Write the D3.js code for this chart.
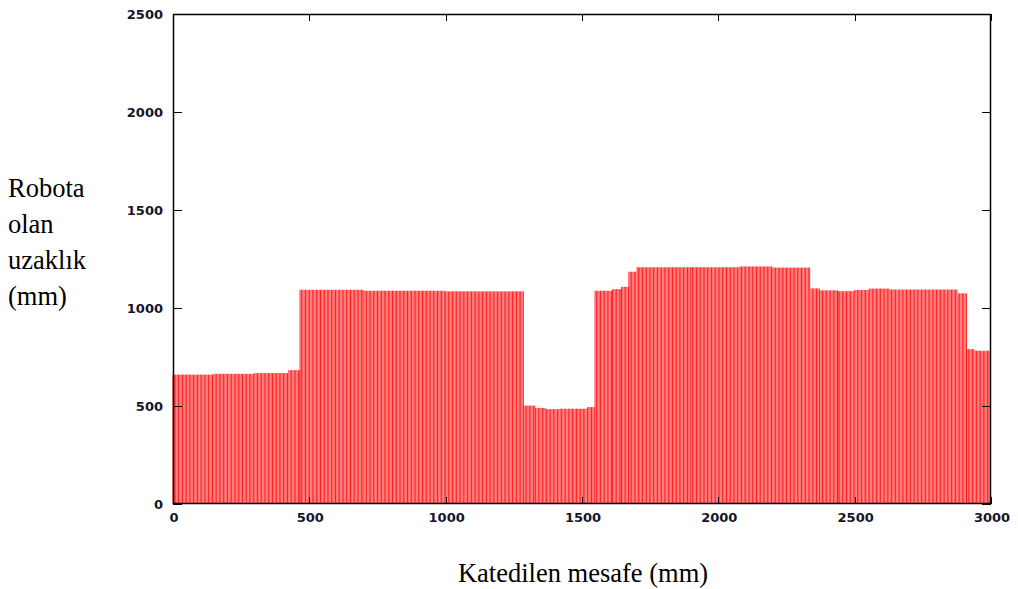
<!DOCTYPE html>
<html>
<head>
<meta charset="utf-8">
<script src="https://cdn.jsdelivr.net/npm/d3@7"></script>
<style>
  html, body { margin: 0; padding: 0; background: #fff; }
  svg { display: block; }
</style>
</head>
<body>
<svg id="chart" width="1018" height="589"></svg>
<script>
// Distance readings along the travelled path, as runs of equal readings:
// [from mm, to mm, distance mm]
const runStart = [0, 150, 300, 425, 466, 700, 1000, 1287, 1330, 1370, 1420, 1520, 1548, 1612, 1645, 1672, 1702, 1900, 2080, 2200, 2340, 2372, 2440, 2500, 2555, 2630, 2880, 2912, 2942];
const runEnd   = [150, 300, 425, 466, 700, 1000, 1287, 1330, 1370, 1420, 1520, 1548, 1612, 1645, 1672, 1702, 1900, 2080, 2200, 2340, 2372, 2440, 2500, 2555, 2630, 2880, 2912, 2942, 3000];
const runValue = [660, 664, 668, 683, 1093, 1088, 1085, 502, 490, 484, 486, 494, 1088, 1096, 1108, 1185, 1208, 1208, 1212, 1206, 1100, 1090, 1086, 1092, 1099, 1094, 1075, 790, 782];
const sampleStep = 5;           // mm between readings
const xTicks = [0, 500, 1000, 1500, 2000, 2500, 3000];
const yTicks = [0, 500, 1000, 1500, 2000, 2500];

// Expand runs into individual readings
const readings = [];
runStart.forEach((s, i) => {
  const last = i === runStart.length - 1;
  for (let v = s; v < runEnd[i] || (last && v <= runEnd[i]); v += sampleStep) {
    readings.push({ x: v, y: runValue[i] });
  }
});

const svg = d3.select("#chart");
const plotL = 173, plotR = 991, plotT = 14, plotB = 504;

const x = d3.scaleLinear().domain([0, 3000]).range([plotL, plotR]);
const y = d3.scaleLinear().domain([0, 2500]).range([plotB, plotT]);

// Impulses
svg.append("g")
  .selectAll("line")
  .data(readings)
  .join("line")
  .attr("x1", d => x(d.x))
  .attr("x2", d => x(d.x))
  .attr("y1", y(0))
  .attr("y2", d => y(d.y))
  .attr("stroke", "#ff0000")
  .attr("stroke-opacity", 0.88)
  .attr("stroke-width", 1);

// Frame
svg.append("rect")
  .attr("x", plotL + 0.5).attr("y", plotT + 0.5)
  .attr("width", plotR - plotL - 1).attr("height", plotB - plotT - 1)
  .attr("fill", "none").attr("stroke", "#000").attr("stroke-width", 1.5);

const tickColor = "#000";
const labelFont = "bold 13px 'DejaVu Sans', Verdana, sans-serif";

// Y ticks (mirrored on both sides)
const yt = svg.append("g");
yTicks.forEach(v => {
  const py = Math.round(y(v)) + 0.5;
  yt.append("line").attr("x1", plotL).attr("x2", plotL + 9).attr("y1", py).attr("y2", py).attr("stroke", tickColor);
  yt.append("line").attr("x1", plotR - 9).attr("x2", plotR).attr("y1", py).attr("y2", py).attr("stroke", tickColor);
  yt.append("text").attr("x", 163).attr("y", y(v)).attr("dy", "0.35em")
    .attr("text-anchor", "end").style("font", labelFont).attr("fill", "#14142a").text(v);
});

// X ticks (mirrored top and bottom)
const xt = svg.append("g");
xTicks.forEach(v => {
  const px = Math.round(x(v)) + 0.5;
  xt.append("line").attr("x1", px).attr("x2", px).attr("y1", plotB - 7).attr("y2", plotB).attr("stroke", tickColor);
  xt.append("line").attr("x1", px).attr("x2", px).attr("y1", plotT).attr("y2", plotT + 7).attr("stroke", tickColor);
  xt.append("text").attr("x", x(v) + 1).attr("y", 522)
    .attr("text-anchor", "middle").style("font", labelFont).attr("fill", "#14142a").text(v);
});

// Axis titles
const titleFont = "26.5px 'Liberation Serif', 'Times New Roman', serif";
svg.append("text")
  .attr("x", 583).attr("y", 582)
  .attr("text-anchor", "middle")
  .style("font", titleFont)
  .attr("fill", "#000")
  .text("Katedilen mesafe (mm)");

const yTitle = ["Robota", "olan", "uzaklık", "(mm)"];
svg.append("g").selectAll("text")
  .data(yTitle)
  .join("text")
  .attr("x", 8)
  .attr("y", (d, i) => 197 + i * 36)
  .style("font", titleFont)
  .attr("fill", "#000")
  .text(d => d);
</script>
</body>
</html>
